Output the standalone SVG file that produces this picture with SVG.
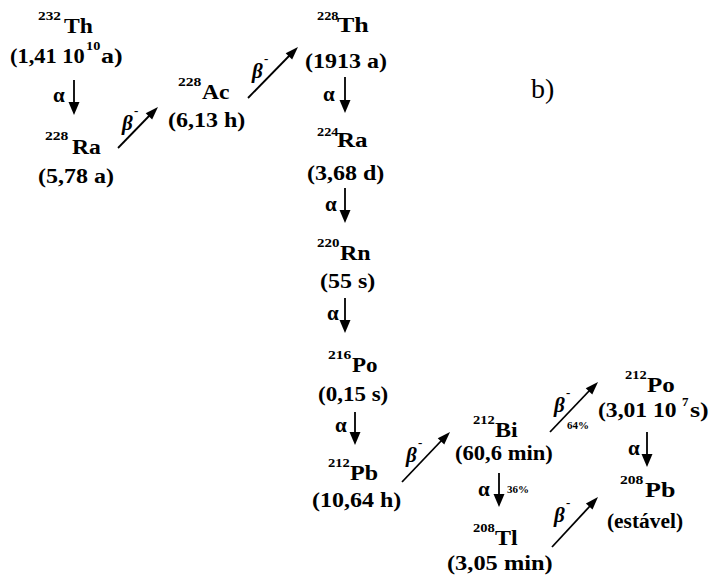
<svg xmlns="http://www.w3.org/2000/svg" width="714" height="583" viewBox="0 0 714 583" font-family="Liberation Serif">
<defs>
<style>
text{font-weight:bold;fill:#000}
.m{font-size:20px}
.s{font-size:13px}
.p{font-size:11px}
.g{font-size:21px}
.b{font-size:21px;font-style:italic}
.lbl{font-size:28px;font-weight:normal}
.c{stroke:#000;stroke-width:1.8;fill:none}
.h{fill:#000;stroke:none}
</style>
</defs>
<rect width="714" height="583" fill="#fff"/>

<g id="th232" font-family="Liberation Serif">
<text class="s" transform="translate(38 20) scale(1.18 1)">232</text>
<text class="m" transform="translate(64 33) scale(1.18 1)">Th</text>
<text class="m" transform="translate(10 63) scale(1.12 1)">(1,41 10</text>
<text class="s" transform="translate(86 50) scale(1.1 1)">10</text>
<text class="m" transform="translate(101 63) scale(1.3 1)">a)</text>
</g>

<g id="ra228" font-family="Liberation Serif">
<text class="s" transform="translate(45 140) scale(1.2 1)">228</text>
<text class="m" transform="translate(72 154) scale(1.18 1)">Ra</text>
<text class="m" transform="translate(38 183) scale(1.2 1)">(5,78 a)</text>
</g>

<g id="ac228" font-family="Liberation Serif">
<text class="s" transform="translate(178 86) scale(1.2 1)">228</text>
<text class="m" transform="translate(202 99) scale(1.18 1)">Ac</text>
<text class="m" transform="translate(168 127) scale(1.2 1)">(6,13 h)</text>
</g>

<g id="th228" font-family="Liberation Serif">
<text class="s" transform="translate(317 20) scale(1.1 1)">228</text>
<text class="m" transform="translate(337 32) scale(1.3 1)">Th</text>
<text class="m" transform="translate(305 68) scale(1.2 1)">(1913 a)</text>
</g>

<g id="ra224" font-family="Liberation Serif">
<text class="s" transform="translate(317 136) scale(1.1 1)">224</text>
<text class="m" transform="translate(337 147) scale(1.25 1)">Ra</text>
<text class="m" transform="translate(307 180) scale(1.2 1)">(3,68 d)</text>
</g>

<g id="rn220" font-family="Liberation Serif">
<text class="s" transform="translate(317 247) scale(1.15 1)">220</text>
<text class="m" transform="translate(340 260) scale(1.2 1)">Rn</text>
<text class="m" transform="translate(320 288) scale(1.2 1)">(55 s)</text>
</g>

<g id="po216" font-family="Liberation Serif">
<text class="s" transform="translate(328 359) scale(1.2 1)">216</text>
<text class="m" transform="translate(352 372) scale(1.15 1)">Po</text>
<text class="m" transform="translate(318 401) scale(1.15 1)">(0,15 s)</text>
</g>

<g id="pb212" font-family="Liberation Serif">
<text class="s" transform="translate(328 467) scale(1.12 1)">212</text>
<text class="m" transform="translate(350 480) scale(1.2 1)">Pb</text>
<text class="m" transform="translate(312 507) scale(1.2 1)">(10,64 h)</text>
</g>

<g id="bi212" font-family="Liberation Serif">
<text class="s" transform="translate(473 424) scale(1.12 1)">212</text>
<text class="m" transform="translate(495 437) scale(1.2 1)">Bi</text>
<text class="m" transform="translate(455 460) scale(1.13 1)">(60,6 min)</text>
</g>

<g id="tl208" font-family="Liberation Serif">
<text class="s" transform="translate(473 532) scale(1.12 1)">208</text>
<text class="m" transform="translate(495 545) scale(1.2 1)">Tl</text>
<text class="m" transform="translate(447 570) scale(1.22 1)">(3,05 min)</text>
</g>

<g id="po212" font-family="Liberation Serif">
<text class="s" transform="translate(625 379) scale(1.12 1)">212</text>
<text class="m" transform="translate(647 392) scale(1.25 1)">Po</text>
<text class="m" transform="translate(598 417) scale(1.18 1)">(3,01 10</text>
<text class="s" x="682" y="406">7</text>
<text class="m" transform="translate(690 417) scale(1.3 1)">s)</text>
</g>

<g id="pb208" font-family="Liberation Serif">
<text class="s" transform="translate(620 484) scale(1.2 1)">208</text>
<text class="m" transform="translate(645 497) scale(1.3 1)">Pb</text>
<text class="m" transform="translate(607 528) scale(1.07 1)">(est&#225;vel)</text>
</g>

<g id="label-b" font-family="Liberation Serif">
<text class="lbl" x="531" y="98">b)</text>
</g>

<g id="connectors" font-family="Liberation Serif">
<line class="c" x1="74" y1="80" x2="74" y2="104"/>
<polygon class="h" points="74,115 68.5,102 79.5,102"/>
<text class="g" x="53" y="102">&#945;</text>

<line class="c" x1="118" y1="148" x2="150" y2="115"/>
<polygon class="h" points="158,107 152.14,119.45 145.7,113.17"/>
<text class="b" x="122" y="130">&#946;</text>
<text class="s" x="134" y="115">-</text>

<line class="c" x1="248" y1="98" x2="290" y2="55"/>
<polygon class="h" points="298,47 292.11,59.43 285.69,53.13"/>
<text class="b" x="252" y="78">&#946;</text>
<text class="s" x="264" y="63">-</text>

<line class="c" x1="345" y1="77" x2="345" y2="102"/>
<polygon class="h" points="345,113 339.5,100 350.5,100"/>
<text class="g" x="323" y="101">&#945;</text>

<line class="c" x1="345" y1="188" x2="345" y2="212"/>
<polygon class="h" points="345,223 339.5,210 350.5,210"/>
<text class="g" x="325" y="211">&#945;</text>

<line class="c" x1="345" y1="298" x2="345" y2="322"/>
<polygon class="h" points="345,333 339.5,320 350.5,320"/>
<text class="g" x="327" y="320">&#945;</text>

<line class="c" x1="355" y1="412" x2="355" y2="434"/>
<polygon class="h" points="355,445 349.5,432 360.5,432"/>
<text class="g" x="335" y="432">&#945;</text>

<line class="c" x1="402" y1="482" x2="442" y2="440"/>
<polygon class="h" points="450,432 444.25,444.5 437.75,438.26"/>
<text class="b" x="406" y="462">&#946;</text>
<text class="s" x="418" y="447">-</text>

<line class="c" x1="550" y1="432" x2="590" y2="390"/>
<polygon class="h" points="598,382 592.25,394.5 585.75,388.26"/>
<text class="b" x="554" y="412">&#946;</text>
<text class="s" x="566" y="397">-</text>
<text class="p" x="567" y="429">64%</text>

<line class="c" x1="499" y1="473" x2="499" y2="496"/>
<polygon class="h" points="499,507 493.5,494 504.5,494"/>
<text class="g" x="478" y="496">&#945;</text>
<text class="p" x="507" y="493">36%</text>

<line class="c" x1="647" y1="432" x2="647" y2="456"/>
<polygon class="h" points="647,467 641.5,454 652.5,454"/>
<text class="g" x="628" y="455">&#945;</text>

<line class="c" x1="552" y1="547" x2="590" y2="506"/>
<polygon class="h" points="598,497 592.51,509.62 585.89,503.52"/>
<text class="b" x="554" y="522">&#946;</text>
<text class="s" x="566" y="507">-</text>
</g>
</svg>
